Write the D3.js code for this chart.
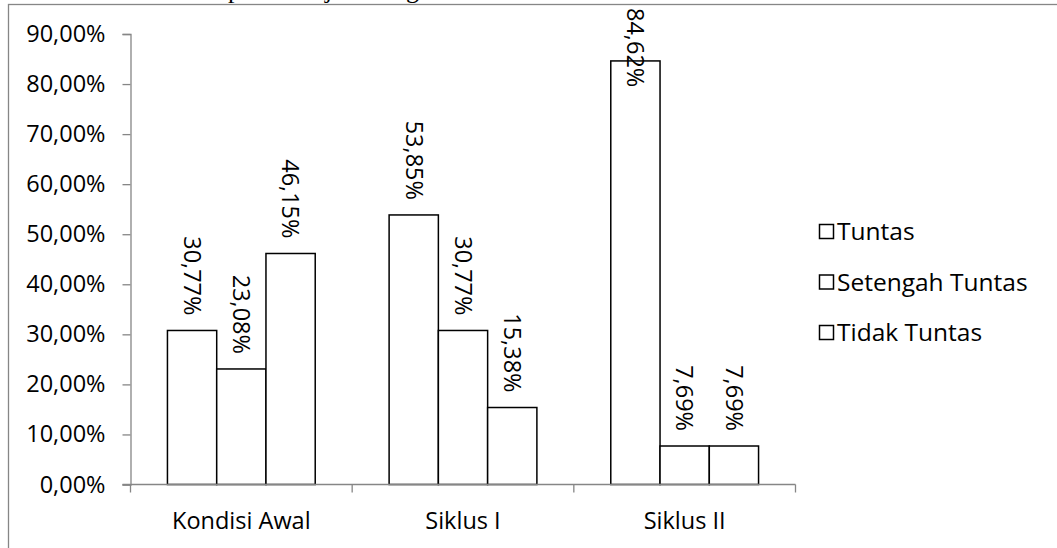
<!DOCTYPE html>
<html>
<head>
<meta charset="utf-8">
<script src="https://cdn.jsdelivr.net/npm/d3@7"></script>
<style>
  html, body { margin: 0; padding: 0; background: #fff; }
  svg { display: block; }
  text { font-family: "Open Sans", "Noto Sans", sans-serif; fill: #000; }
</style>
</head>
<body>
<svg id="chart" width="1057" height="548"></svg>
<script>
// Persentase ketuntasan belajar per tahap
const categories = ["Kondisi Awal", "Siklus I", "Siklus II"];
const seriesNames = ["Tuntas", "Setengah Tuntas", "Tidak Tuntas"];
const tuntas         = [30.77, 53.85, 84.62];
const setengahTuntas = [23.08, 30.77, 7.69];
const tidakTuntas    = [46.15, 15.38, 7.69];
const yTicks = [0, 10, 20, 30, 40, 50, 60, 70, 80, 90];

const seriesValues = [tuntas, setengahTuntas, tidakTuntas];
const rows = [];
categories.forEach((c, ci) => {
  seriesNames.forEach((s, si) => rows.push({ cat: c, series: s, value: seriesValues[si][ci] }));
});

const fmt = v => v.toFixed(2).replace(".", ",") + "%";
const FS = 23.5;
const AXIS = "#868686";

const svg = d3.select("#chart");

// descenders of the body text line running just above the chart
const bodyLine = svg.append("g")
  .attr("font-family", "Liberation Serif, serif").attr("font-size", 26);
[["p", 228], ["j", 325], ["g", 406]].forEach(([ch, xPos]) => {
  bodyLine.append("text").attr("x", xPos).attr("y", -2)
    .style("font-family", "'Liberation Serif', serif").text(ch);
});

// chart area frame
svg.append("rect")
  .attr("x", 8.5).attr("y", 4.5)
  .attr("width", 1200).attr("height", 700)
  .attr("fill", "#fff").attr("stroke", AXIS).attr("stroke-width", 1.3);

const plot = { left: 130.5, right: 795.5, top: 34, bottom: 484.5 };

const x0 = d3.scaleBand().domain(categories).range([plot.left, plot.right]).padding(0);
const x1 = d3.scaleBand().domain(seriesNames).range([0, x0.bandwidth()])
  .paddingInner(0).paddingOuter(0.75);
const y = d3.scaleLinear().domain([0, 90]).range([plot.bottom, plot.top]);

// bars
const bars = svg.append("g");
bars.selectAll("rect").data(rows).join("rect")
  .attr("x", d => x0(d.cat) + x1(d.series))
  .attr("y", d => y(d.value))
  .attr("width", x1.bandwidth())
  .attr("height", d => y(0) - y(d.value))
  .attr("fill", "#fff").attr("stroke", "#000").attr("stroke-width", 1.5);

// y axis
const yAxis = svg.append("g")
  .attr("transform", `translate(${plot.left},0)`)
  .call(d3.axisLeft(y).tickValues(yTicks).tickSize(8).tickPadding(17).tickFormat(fmt));
yAxis.select(".domain").attr("stroke", AXIS).attr("stroke-width", 1.3);
yAxis.selectAll(".tick line").attr("stroke", AXIS).attr("stroke-width", 1.3);
yAxis.selectAll(".tick text").attr("font-size", FS).attr("font-family", "Open Sans").attr("fill", "#000");

// x axis: tick marks on category boundaries
const xAxis = svg.append("g").attr("transform", `translate(0,${plot.bottom})`);
xAxis.append("line")
  .attr("x1", plot.left - 8).attr("x2", plot.right)
  .attr("stroke", AXIS).attr("stroke-width", 1.3);
const bounds = categories.map(c => x0(c)).concat([x0.range()[1]]);
xAxis.selectAll("line.tk").data(bounds).join("line").attr("class", "tk")
  .attr("x1", d => d).attr("x2", d => d).attr("y1", 0).attr("y2", 8)
  .attr("stroke", AXIS).attr("stroke-width", 1.3);
xAxis.selectAll("text").data(categories).join("text")
  .attr("x", d => x0(d) + x0.bandwidth() / 2)
  .attr("y", 44)
  .attr("text-anchor", "middle")
  .attr("font-size", FS)
  .text(d => d);

// data labels, rotated, above each bar
const labels = svg.append("g");
labels.selectAll("text").data(rows).join("text")
  .attr("font-size", FS)
  .attr("text-anchor", "end")
  .attr("dy", "0.35em")
  .text(d => fmt(d.value))
  .each(function (d) {
    const len = this.getComputedTextLength();
    const cx = x0(d.cat) + x1(d.series) + x1.bandwidth() / 2;
    const yEnd = Math.max(y(d.value) - 15, 8 + len);
    d3.select(this).attr("transform", `translate(${cx},${yEnd}) rotate(90)`);
  });

// legend
const legend = svg.append("g").attr("transform", "translate(819,0)");
const legendBase = [240, 290.5, 341];
seriesNames.forEach((s, i) => {
  legend.append("rect")
    .attr("x", 0.5).attr("y", legendBase[i] - 15.5)
    .attr("width", 14).attr("height", 14)
    .attr("fill", "#fff").attr("stroke", "#000").attr("stroke-width", 1.5);
  legend.append("text")
    .attr("x", 18).attr("y", legendBase[i])
    .attr("font-size", FS + 1)
    .text(s);
});
</script>
</body>
</html>
